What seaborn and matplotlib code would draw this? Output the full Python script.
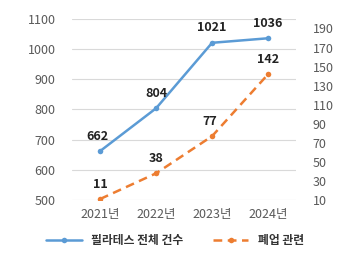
import numpy as np
import pandas as pd
import seaborn as sns
import matplotlib.pyplot as plt

sns.set_style('white')
plt.rcParams['font.family'] = ['Noto Sans CJK KR', 'DejaVu Sans']

years = ['2021년', '2022년', '2023년', '2024년']
total = [662, 804, 1021, 1036]
closed = [11, 38, 77, 142]

blue = '#5B9BD5'
orange = '#ED7D31'
grey = '#595959'

df = pd.DataFrame({'year': years, 'total': total, 'closed': closed})
x = np.arange(len(years))

fig = plt.figure(figsize=(3.5, 2.67), dpi=100)
ax = fig.add_axes([0.206, 0.251, 0.64, 0.678])
ax2 = ax.twinx()

sns.lineplot(x=x, y=df['total'], ax=ax, color=blue, lw=1.8, marker='o', ms=4,
             markeredgewidth=0, label='필라테스 전체 건수', legend=False)
sns.lineplot(x=x, y=df['closed'], ax=ax2, color=orange, lw=1.8, marker='o', ms=4,
             markeredgewidth=0, dashes=False, linestyle=(0, (3.5, 2.2)),
             label='폐업 관련', legend=False)

ax.set_ylim(500, 1100)
ax.set_yticks(range(500, 1101, 100))
ax2.set_ylim(10, 200)
ax2.set_yticks(range(10, 191, 20))
ax.set_xlim(-0.5, 3.5)
ax.set_xticks(x)
ax.set_xticklabels(years)
ax.set_xlabel('')
ax.set_ylabel('')
ax2.set_ylabel('')

ax.grid(axis='y', color='#d9d9d9', lw=0.8)
for a in (ax, ax2):
    for s in a.spines.values():
        s.set_visible(False)
    a.tick_params(length=0, labelsize=9, colors=grey)
ax.tick_params(axis='y', pad=12)
ax.tick_params(axis='x', pad=6)
ax2.tick_params(axis='y', pad=12)

for i, v in enumerate(total):
    ax.annotate(str(v), (i, v), xytext=(-2 if i == 0 else 0, 6), textcoords='offset points',
                ha='center', va='bottom', fontsize=9, fontweight='bold', color='#222222')
for i, v in enumerate(closed):
    ax2.annotate(str(v), (i, v), xytext=(-2 if i == 2 else 0, 6), textcoords='offset points',
                 ha='center', va='bottom', fontsize=9, fontweight='bold', color='#222222')

h1, l1 = ax.get_legend_handles_labels()
h2, l2 = ax2.get_legend_handles_labels()
fig.legend(h1 + h2, l1 + l2, loc='center', bbox_to_anchor=(0.5, 0.1), ncol=2,
           frameon=False, prop={'size': 8.5, 'weight': 'bold'}, handlelength=3.0,
           columnspacing=2.5, labelcolor='#333333')

fig.savefig('out.png', dpi=100)
